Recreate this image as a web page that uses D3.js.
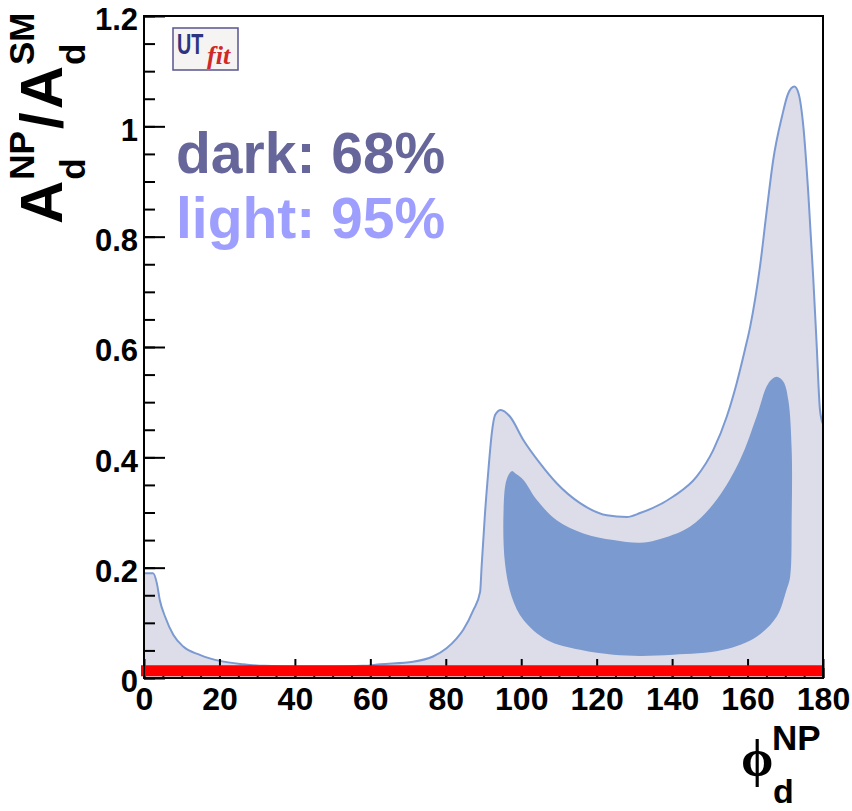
<!DOCTYPE html>
<html>
<head>
<meta charset="utf-8">
<script src="https://d3js.org/d3.v7.min.js"></script>
<style>
  body { margin: 0; background: #fff; }
  text { font-family: "Liberation Sans", Arial, sans-serif; font-weight: bold; }
</style>
</head>
<body>
<script>

// axis ticks
var xTicks = [0, 20, 40, 60, 80, 100, 120, 140, 160, 180];
var yTicks = [0, 0.2, 0.4, 0.6, 0.8, 1.0, 1.2];
var yTickLabels = ["0", "0.2", "0.4", "0.6", "0.8", "1", "1.2"];

// upper edge of the 95% region (lower edge sits on 0)
var upperPhi = [0, 2.4, 3.4, 4.2, 5.6, 7.8, 10.4, 14.8, 20.1, 26.3, 32, 40, 50, 58, 62.6, 71.3, 76.6, 80.2, 82.9, 84.6,
    87.3, 89.1, 89.5, 90.4, 91.3, 92.2, 93.1, 94.6, 97.0, 100.6, 105.0, 109.4, 115.6, 122.7, 128.0, 131.5, 140.3,
    146.5, 150.9, 154.5, 157.1, 159.3, 160.7, 163.3, 165.1, 166.8, 169.1, 170.8, 172.4, 173.5, 174.8, 176.1,
    177.4, 178.3, 179.2, 180];
var upperA = [0.19, 0.19, 0.172, 0.141, 0.111, 0.078, 0.057, 0.042, 0.031, 0.025, 0.022, 0.021, 0.021, 0.022, 0.025,
    0.0296, 0.039, 0.054, 0.072, 0.087, 0.123, 0.156, 0.202, 0.299, 0.377, 0.444, 0.477, 0.486, 0.474, 0.431,
    0.389, 0.353, 0.317, 0.295, 0.292, 0.299, 0.329, 0.365, 0.413, 0.474, 0.534, 0.595, 0.637, 0.746, 0.848,
    0.939, 1.017, 1.060, 1.072, 1.060, 0.999, 0.879, 0.727, 0.607, 0.486, 0.46];

// outline of the 68% region (closed)
var darkPhi = [97.5, 96.1, 95.3, 95.7, 97.5, 100.6, 106.8, 115.6, 124.4, 131.5, 140.3, 153.6, 162.4, 167.7, 170.3,
    171.3, 171.7, 171.7, 170.8, 169.5, 167.7, 165.5, 162.4, 158.0, 151.8, 144.7, 135.9, 131.5, 124.4, 116.5,
    109.4, 104.1, 100.6, 98.4];
var darkA = [0.375, 0.359, 0.299, 0.208, 0.147, 0.105, 0.069, 0.051, 0.042, 0.040, 0.042, 0.051, 0.075, 0.111, 0.159,
    0.184, 0.292, 0.413, 0.504, 0.537, 0.546, 0.534, 0.474, 0.395, 0.323, 0.274, 0.250, 0.245, 0.250, 0.262,
    0.286, 0.323, 0.359, 0.371];

// SM value line
var smA = 0.013;

var width = 852, height = 811;

var x = d3.scaleLinear().domain([0, 180]).range([144, 823]);
var y = d3.scaleLinear().domain([0, 1.2]).range([678, 16]);

var svg = d3.select('body').append('svg')
    .attr('width', width)
    .attr('height', height);

var upper = upperPhi.map(function(p, i) { return [p, upperA[i]]; });
var dark = darkPhi.map(function(p, i) { return [p, darkA[i]]; });

var area = d3.area()
    .x(function(d) { return x(d[0]); })
    .y0(y(0))
    .y1(function(d) { return y(d[1]); })
    .curve(d3.curveMonotoneX);

var line = d3.line()
    .x(function(d) { return x(d[0]); })
    .y(function(d) { return y(d[1]); })
    .curve(d3.curveMonotoneX);

svg.append('path').datum(upper)
    .attr('d', area)
    .attr('fill', '#dcdde8');

svg.append('path').datum(upper)
    .attr('d', line)
    .attr('fill', 'none')
    .attr('stroke', '#7b9ad2')
    .attr('stroke-width', 2);

var blob = d3.line()
    .x(function(d) { return x(d[0]); })
    .y(function(d) { return y(d[1]); })
    .curve(d3.curveCatmullRomClosed.alpha(0.5));

svg.append('path').datum(dark)
    .attr('d', blob)
    .attr('fill', '#7b9ad0');

// axes
var xMinor = d3.range(0, 181, 5);
var yMinor = d3.range(0, 1.201, 0.05);

svg.append('g')
    .attr('transform', 'translate(0,678)')
    .call(d3.axisBottom(x).tickValues(xMinor).tickSizeInner(-10).tickSizeOuter(0).tickFormat(''))
    .call(function(g) { g.select('.domain').remove(); });

var gX = svg.append('g')
    .attr('transform', 'translate(0,678)')
    .call(d3.axisBottom(x).tickValues(xTicks).tickSizeInner(-19).tickSizeOuter(0).tickPadding(9).tickFormat(d3.format('d')));
gX.select('.domain').remove();
gX.selectAll('text').attr('font-size', 32).attr('font-family', null).attr('fill', '#000');

svg.append('g')
    .attr('transform', 'translate(144,0)')
    .call(d3.axisLeft(y).tickValues(yMinor).tickSizeInner(-11).tickSizeOuter(0).tickFormat(''))
    .call(function(g) { g.select('.domain').remove(); });

var gY = svg.append('g')
    .attr('transform', 'translate(144,0)')
    .call(d3.axisLeft(y).tickValues(yTicks).tickSizeInner(-21).tickSizeOuter(0).tickPadding(6)
        .tickFormat(function(d, i) { return yTickLabels[i]; }));
gY.select('.domain').remove();
gY.selectAll('text').attr('font-size', 31).attr('font-family', null).attr('fill', '#000').attr('dy', '0.45em');

svg.selectAll('.tick line').attr('stroke', '#000').attr('stroke-width', 2);

// SM line
svg.append('line')
    .attr('x1', x(0) - 3).attr('x2', x(180))
    .attr('y1', y(smA)).attr('y2', y(smA))
    .attr('stroke', '#ff0000')
    .attr('stroke-width', 11);

// frame
svg.append('rect')
    .attr('x', 144).attr('y', 16)
    .attr('width', 823 - 144).attr('height', 678 - 16)
    .attr('fill', 'none')
    .attr('stroke', '#000')
    .attr('stroke-width', 2);

// legend text
svg.append('text').attr('x', 176).attr('y', 173)
    .attr('font-size', 57).attr('fill', '#66669a').text('dark: 68%');
svg.append('text').attr('x', 176).attr('y', 238)
    .attr('font-size', 57).attr('fill', '#9e9eff').text('light: 95%');

// logo
var logo = svg.append('g');
logo.append('rect').attr('x', 173).attr('y', 28).attr('width', 65).attr('height', 42)
    .attr('fill', '#f6f4f2').attr('stroke', '#55558f').attr('stroke-width', 1.5);
logo.append('text').attr('transform', 'translate(177,54) scale(0.66,1)').attr('font-size', 30)
    .attr('fill', '#2e3580').text('UT');
logo.append('text').attr('x', 207).attr('y', 64).attr('font-size', 26)
    .attr('font-style', 'italic').attr('font-weight', 'normal')
    .style('font-family', '"Liberation Serif", serif')
    .attr('fill', '#d02828').text('fit');

// y title
var yt = svg.append('g').attr('transform', 'translate(62,224) rotate(-90)');
var pos = 0;
function part(main, sub, sup) {
    var t = yt.append('text').attr('x', pos).attr('y', 0).attr('font-size', 60).text(main);
    pos += t.node().getComputedTextLength() + 1;
    var w = 0;
    if (sub) {
        var s = yt.append('text').attr('x', pos).attr('y', 23).attr('font-size', 35).text(sub);
        w = Math.max(w, s.node().getComputedTextLength());
    }
    if (sup) {
        var u = yt.append('text').attr('x', pos).attr('y', -28).attr('font-size', 35).text(sup);
        w = Math.max(w, u.node().getComputedTextLength());
    }
    pos += w + 2;
}
part('A', 'd', 'NP');
part('/', null, null);
part('A', 'd', 'SM');

// x title
svg.append('text').attr('x', 741).attr('y', 776)
    .attr('font-size', 52).attr('font-weight', 'normal')
    .style('font-family', '"Liberation Serif", "DejaVu Serif", serif')
    .text('\u03D5');
svg.append('text').attr('x', 772).attr('y', 750).attr('font-size', 35).text('NP');
svg.append('text').attr('x', 773).attr('y', 803).attr('font-size', 34).text('d');

</script>
</body>
</html>
